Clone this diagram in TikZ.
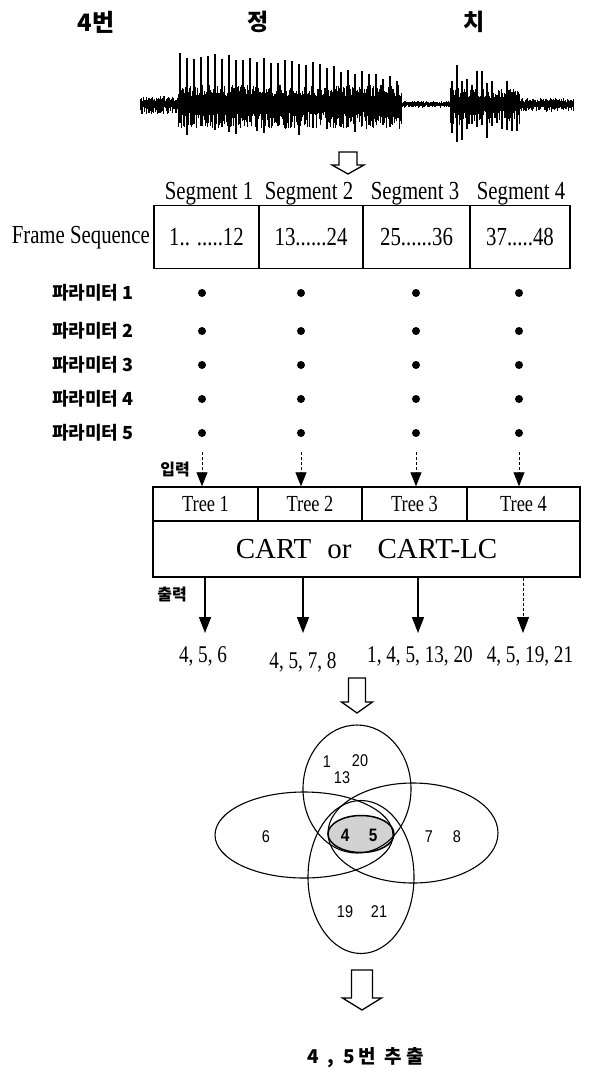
\documentclass[tikz,border=0pt]{standalone}
\usepackage{fontspec}
\setmainfont{Liberation Serif}
\newfontfamily\cserif[FakeStretch=0.8]{Liberation Serif}
\newfontfamily\kr{Noto Sans CJK KR}
\newfontfamily\krwide[LetterSpace=22]{Noto Sans CJK KR}
\newfontfamily\vsans[FakeStretch=0.85]{Liberation Sans}
\usetikzlibrary{shapes.geometric,arrows.meta}
\newcommand\hollowdown[6]{%
  \draw[hollow] (#1-#5,#2) -- (#1+#5,#2) -- (#1+#5,#4) -- (#1+#6,#4) -- (#1,#3)
    -- (#1-#6,#4) -- (#1-#5,#4) -- cycle;}
\begin{document}
\begin{tikzpicture}[x=1pt,y=-1pt,
  wave/.style={line width=1pt},
  spike/.style={line width=1.8pt},
  hollow/.style={draw, line width=1.3pt, fill=white, line join=miter},
  cell/.style={draw, line width=1.4pt, minimum height=63pt, inner sep=0pt,
    font=\cserif\fontsize{26}{28}\selectfont},
  treecell/.style={draw, line width=1.4pt, minimum height=34pt, inner sep=0pt,
    font=\cserif\fontsize{23}{25}\selectfont},
  seglabel/.style={font=\cserif\fontsize{26}{28}\selectfont, inner sep=0pt},
  outlabel/.style={font=\cserif\fontsize{24}{26}\selectfont, inner sep=0pt},
  param/.style={anchor=west, font=\kr\bfseries\fontsize{18}{20}\selectfont, inner sep=0pt},
  dot/.style={circle, fill, inner sep=0pt, minimum size=8pt},
  inarrow/.style={densely dashed, line width=0.8pt, -{Triangle[width=11pt,length=14pt]}},
  outarrow/.style={line width=1.6pt, -{Triangle[width=12pt,length=16pt]}},
  venn/.style={ellipse, draw, line width=1.1pt, inner sep=0pt},
  vlabel/.style={font=\vsans\fontsize{17}{19}\selectfont, inner sep=0pt},
  klabel/.style={font=\kr\bfseries\fontsize{16}{18}\selectfont, inner sep=0pt}
]
\useasboundingbox (0,0) rectangle (593,1070);

% ---- top labels
\node[font=\kr\bfseries\fontsize{24}{26}\selectfont, inner sep=0pt] (n4) at (96,22) {4번};
\node[font=\kr\bfseries\fontsize{23}{25}\selectfont, inner sep=0pt] (jeong) at (258,22) {정};
\node[font=\kr\bfseries\fontsize{23}{25}\selectfont, inner sep=0pt] (chi) at (474,22) {치};

% ---- waveform
\pgfmathsetseed{12}
\foreach \x in {140,141,...,573}{
  \pgfmathsetmacro\env{(\x<178)*8 + and(\x>=178,\x<402)*19 + and(\x>=402,\x<450)*3 + and(\x>=450,\x<520)*16 + (\x>=520)*6}
  \pgfmathsetmacro\wu{\env*(0.4+0.6*rnd)}
  \pgfmathsetmacro\wd{\env*(0.4+0.9*rnd)}
  \draw[wave] (\x,104-\wu) -- (\x,104+\wd);
}
\foreach \i in {0,...,31}{
  \pgfmathsetmacro\xx{180+7*\i}
  \pgfmathsetmacro\ta{53+24*(\i/31)^2+6*rnd}
  \pgfmathsetmacro\tb{118+22*rnd-8*(\i/31)}
  \draw[spike] (\xx,\ta) -- (\xx,\tb);
}
\foreach \i in {0,...,13}{
  \pgfmathsetmacro\xx{452+5*\i}
  \pgfmathsetmacro\ta{62+22*rnd+1.2*\i}
  \pgfmathsetmacro\tb{120+22*rnd}
  \draw[spike] (\xx,\ta) -- (\xx,\tb);
}

\hollowdown{348}{152}{174}{165}{9}{16}

% ---- frame sequence
\node[seglabel] (s1) at (209,194) {Segment 1};
\node[seglabel] (s2) at (309,194) {Segment 2};
\node[seglabel] (s3) at (415,194) {Segment 3};
\node[seglabel] (s4) at (521,194) {Segment 4};
\node[cell, minimum width=105pt] (c1) at (206.5,237) {1.. .....12};
\node[cell, minimum width=104pt] (c2) at (311,237) {13......24};
\node[cell, minimum width=107pt] (c3) at (416.5,237) {25......36};
\node[cell, minimum width=100pt] (c4) at (520,237) {37.....48};
\node[seglabel, anchor=east] (fs) at (150,238) {Frame Sequence};

% ---- parameters
\foreach \r/\y in {1/293,2/331,3/365,4/399,5/433}{
  \node[param] (p\r) at (52,\y) {파라미터 \r};
  \node[dot] (d1\r) at (202,\y) {};
  \node[dot] (d2\r) at (301,\y) {};
  \node[dot] (d3\r) at (416,\y) {};
  \node[dot] (d4\r) at (519,\y) {};
}

% ---- trees
\node[treecell, minimum width=105pt] (t1) at (205.5,504) {Tree 1};
\node[treecell, minimum width=104pt] (t2) at (310,504) {Tree 2};
\node[treecell, minimum width=105pt] (t3) at (414.5,504) {Tree 3};
\node[treecell, minimum width=113pt] (t4) at (523.5,504) {Tree 4};
\node[draw, line width=1.4pt, minimum width=427pt, minimum height=56pt, inner sep=0pt,
  font=\fontsize{29}{31}\selectfont] (cart) at (366.5,549) {CART\hspace{0.55em}or\hspace{0.9em}CART-LC};

\foreach \k/\x in {1/202,2/301,3/416,4/519}{
  \coordinate (i\k) at (\x,452);
  \draw[inarrow] (i\k) -- (i\k |- t\k.north);
}
\node[klabel] (inlab) at (175,470) {입력};

\coordinate (o1) at (205,633);
\coordinate (o2) at (303,633);
\coordinate (o3) at (418,633);
\coordinate (o4) at (523,633);
\draw[outarrow] (o1 |- cart.south) -- (o1);
\draw[outarrow] (o2 |- cart.south) -- (o2);
\draw[outarrow] (o3 |- cart.south) -- (o3);
\draw[outarrow, densely dashed, line width=1pt] (o4 |- cart.south) -- (o4);
\node[klabel] (outlab) at (172,595) {출력};

\node[outlabel] (r1) at (203,656) {4, 5, 6};
\node[outlabel] (r2) at (303,662) {4, 5, 7, 8};
\node[outlabel] (r3) at (420,656) {1, 4, 5, 13, 20};
\node[outlabel] (r4) at (530,656) {4, 5, 19, 21};

\hollowdown{357}{678}{713}{702}{8.5}{15.5}

% ---- Venn
\node[venn, fill=gray!35, line width=1.5pt, minimum width=66pt, minimum height=37pt] (vc) at (361,834) {};
\node[venn, minimum width=108pt, minimum height=128pt] (vt) at (357,789) {};
\node[venn, minimum width=106pt, minimum height=153pt] (vb) at (361,877) {};
\node[venn, minimum width=178pt, minimum height=86pt] (vl) at (304,835) {};
\node[venn, minimum width=170pt, minimum height=100pt] (vr) at (413,833) {};

\node[vlabel] (l1) at (327,762) {1};
\node[vlabel] (l20) at (360,761) {20};
\node[vlabel] (l13) at (342,778) {13};
\node[vlabel] (l6) at (266,837) {6};
\node[vlabel, font=\vsans\bfseries\fontsize{18}{20}\selectfont] (l4) at (345,835) {4};
\node[vlabel, font=\vsans\bfseries\fontsize{18}{20}\selectfont] (l5) at (373,835) {5};
\node[vlabel] (l7) at (429,837) {7};
\node[vlabel] (l8) at (457,837) {8};
\node[vlabel] (l19) at (345,912) {19};
\node[vlabel] (l21) at (379,912) {21};

\hollowdown{362}{970}{1010}{998}{10.5}{19.5}

\node[font=\krwide\bfseries\fontsize{19}{21}\selectfont, inner sep=0pt] (res) at (366,1058) {4 , 5번 추출};
\end{tikzpicture}
\end{document}
